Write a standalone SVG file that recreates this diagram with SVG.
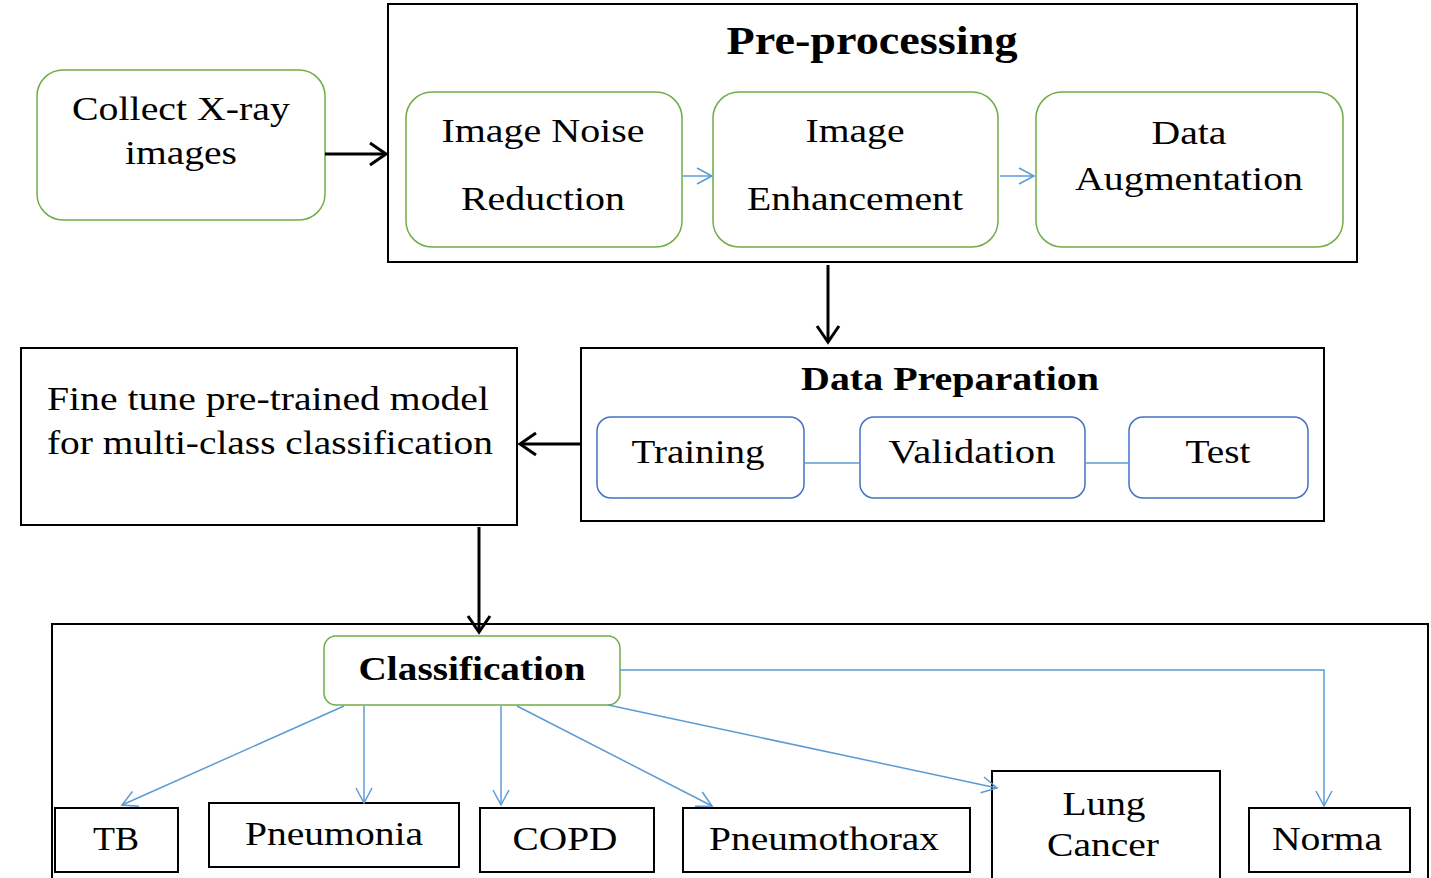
<svg xmlns="http://www.w3.org/2000/svg" width="1431" height="878" viewBox="0 0 1431 878">
<defs>
<marker id="ab" markerWidth="24" markerHeight="28" refX="20" refY="14" orient="auto" markerUnits="userSpaceOnUse"><path d="M4,3 L20,14 L4,25" fill="none" stroke="#000" stroke-width="3"/></marker>
<marker id="al" markerWidth="20" markerHeight="20" refX="17" refY="10" orient="auto" markerUnits="userSpaceOnUse"><path d="M2,2 L17,10 L2,18" fill="none" stroke="#5b9bd5" stroke-width="1.5"/></marker>
</defs>
<style>
text{font-family:"Liberation Serif","Times New Roman",serif;font-size:34px;fill:#000;text-anchor:middle}
.b{font-weight:bold}
.g{fill:#fff;stroke:#70ad47;stroke-width:1.5}
.u{fill:#fff;stroke:#4472c4;stroke-width:1.5}
.k{fill:#fff;stroke:#000;stroke-width:2}
.c{fill:none;stroke:#000;stroke-width:3}
.l{fill:none;stroke:#5b9bd5;stroke-width:1.5}
</style>
<rect width="1431" height="878" fill="#fff"/>
<g id="pre"><rect class="k" x="388" y="4" width="969" height="258"/><text class="b" x="872" y="54" style="font-size:40px" textLength="291" lengthAdjust="spacingAndGlyphs">Pre-processing</text></g>
<g id="prep"><rect class="k" x="581" y="348" width="743" height="173"/><text class="b" x="950" y="390" style="font-size:34px" textLength="298" lengthAdjust="spacingAndGlyphs">Data Preparation</text></g>
<g id="bottom"><rect class="k" x="52" y="624" width="1376" height="260"/></g>
<g id="collect"><rect class="g" x="37" y="70" width="288" height="150" rx="26"/><text x="181" y="120" textLength="218" lengthAdjust="spacingAndGlyphs">Collect X-ray</text><text x="181" y="164" textLength="112" lengthAdjust="spacingAndGlyphs">images</text></g>
<g id="noise"><rect class="g" x="406" y="92" width="276" height="155" rx="26"/><text x="543" y="142" textLength="203" lengthAdjust="spacingAndGlyphs">Image Noise</text><text x="543" y="210" textLength="164" lengthAdjust="spacingAndGlyphs">Reduction</text></g>
<g id="enh"><rect class="g" x="713" y="92" width="285" height="155" rx="26"/><text x="855" y="142" textLength="99" lengthAdjust="spacingAndGlyphs">Image</text><text x="855" y="210" textLength="216" lengthAdjust="spacingAndGlyphs">Enhancement</text></g>
<g id="aug"><rect class="g" x="1036" y="92" width="307" height="155" rx="26"/><text x="1189" y="144" textLength="75" lengthAdjust="spacingAndGlyphs">Data</text><text x="1189" y="190" textLength="228" lengthAdjust="spacingAndGlyphs">Augmentation</text></g>
<g id="training"><rect class="u" x="597" y="417" width="207" height="81" rx="14"/><text x="698" y="463" textLength="133" lengthAdjust="spacingAndGlyphs">Training</text></g>
<g id="validation"><rect class="u" x="860" y="417" width="225" height="81" rx="14"/><text x="972" y="463" textLength="167" lengthAdjust="spacingAndGlyphs">Validation</text></g>
<g id="test"><rect class="u" x="1129" y="417" width="179" height="81" rx="14"/><text x="1218" y="463" textLength="65" lengthAdjust="spacingAndGlyphs">Test</text></g>
<g id="finetune"><rect class="k" x="21" y="348" width="496" height="177"/><text x="47" y="410" style="text-anchor:start" textLength="442" lengthAdjust="spacingAndGlyphs">Fine tune pre-trained model</text><text x="47" y="454" style="text-anchor:start" textLength="446" lengthAdjust="spacingAndGlyphs">for multi-class classification</text></g>
<g id="classification"><rect class="g" x="324" y="636" width="296" height="69" rx="12"/><text class="b" x="472" y="680" textLength="227" lengthAdjust="spacingAndGlyphs">Classification</text></g>
<g id="tb"><rect class="k" x="55" y="808" width="123" height="64"/><text x="116" y="850" textLength="46" lengthAdjust="spacingAndGlyphs">TB</text></g>
<g id="pneumonia"><rect class="k" x="209" y="803" width="250" height="64"/><text x="334" y="845" textLength="178" lengthAdjust="spacingAndGlyphs">Pneumonia</text></g>
<g id="copd"><rect class="k" x="480" y="808" width="174" height="64"/><text x="565" y="850" textLength="105" lengthAdjust="spacingAndGlyphs">COPD</text></g>
<g id="pneumothorax"><rect class="k" x="683" y="808" width="287" height="64"/><text x="824" y="850" textLength="230" lengthAdjust="spacingAndGlyphs">Pneumothorax</text></g>
<g id="lung"><rect class="k" x="992" y="771" width="228" height="110"/><text x="1104" y="815" textLength="83" lengthAdjust="spacingAndGlyphs">Lung</text><text x="1103" y="856" textLength="112" lengthAdjust="spacingAndGlyphs">Cancer</text></g>
<g id="norma"><rect class="k" x="1249" y="808" width="161" height="64"/><text x="1327" y="850" textLength="110" lengthAdjust="spacingAndGlyphs">Norma</text></g>
<g id="connectors">
<line class="c" x1="325" y1="154" x2="386" y2="154" marker-end="url(#ab)"/>
<line class="c" x1="828" y1="265" x2="828" y2="342" marker-end="url(#ab)"/>
<line class="c" x1="581" y1="444" x2="520" y2="444" marker-end="url(#ab)"/>
<line class="c" x1="479" y1="527" x2="479" y2="632" marker-end="url(#ab)"/>
<line class="l" x1="683" y1="176" x2="712" y2="176" marker-end="url(#al)"/>
<line class="l" x1="1000" y1="176" x2="1034" y2="176" marker-end="url(#al)"/>
<line class="l" x1="804" y1="463" x2="860" y2="463"/>
<line class="l" x1="1085" y1="463" x2="1129" y2="463"/>
<line class="l" x1="344" y1="706" x2="122" y2="805" marker-end="url(#al)"/>
<line class="l" x1="364" y1="706" x2="364" y2="803" marker-end="url(#al)"/>
<line class="l" x1="501" y1="706" x2="501" y2="805" marker-end="url(#al)"/>
<line class="l" x1="517" y1="706" x2="712" y2="806" marker-end="url(#al)"/>
<line class="l" x1="608" y1="705" x2="997" y2="788" marker-end="url(#al)"/>
<polyline class="l" points="620,670 1324,670 1324,806" marker-end="url(#al)"/>
</g>
</svg>
